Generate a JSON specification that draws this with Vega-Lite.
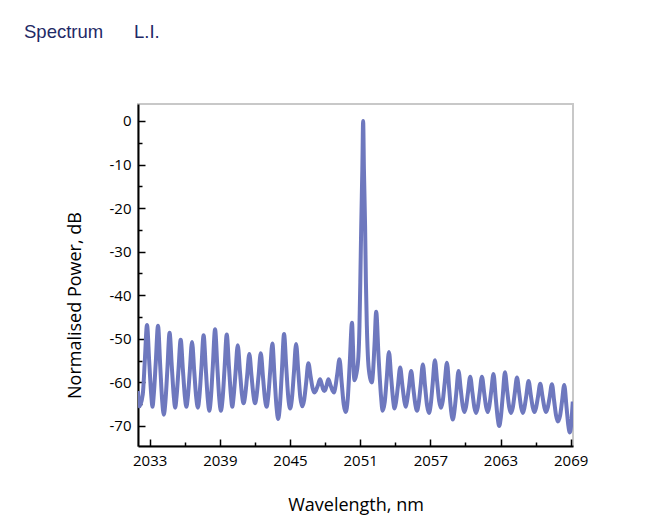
{
  "$schema": "https://vega.github.io/schema/vega-lite/v6.json",
  "width": 435,
  "height": 342,
  "autosize": {"type": "none"},
  "padding": {"left": 138, "top": 104, "right": 98, "bottom": 79},
  "background": "white",
  "title": {
    "text": "Spectrum\u00a0\u00a0\u00a0\u00a0\u00a0\u00a0L.I.",
    "anchor": "start",
    "frame": "group",
    "dx": -114,
    "offset": 63,
    "font": "Liberation Sans",
    "fontSize": 18.5,
    "fontWeight": "normal",
    "color": "#1f2a66"
  },
  "config": {
    "view": {"stroke": "#c8c8c8", "strokeWidth": 2}
  },
  "data": {
    "values": [
      {"w": 2032.00, "p": -62.0}, {"w": 2032.12, "p": -65.5}, {"w": 2032.41, "p": -62.7}, {"w": 2032.58, "p": -55.2},
      {"w": 2032.77, "p": -46.8}, {"w": 2032.96, "p": -55.3}, {"w": 2033.13, "p": -62.8}, {"w": 2033.24, "p": -65.6},
      {"w": 2033.35, "p": -62.8}, {"w": 2033.52, "p": -55.4}, {"w": 2033.71, "p": -47.0}, {"w": 2033.90, "p": -56.2},
      {"w": 2034.07, "p": -64.3}, {"w": 2034.21, "p": -67.4}, {"w": 2034.34, "p": -64.6}, {"w": 2034.51, "p": -57.1},
      {"w": 2034.70, "p": -48.6}, {"w": 2034.89, "p": -56.3}, {"w": 2035.06, "p": -63.2}, {"w": 2035.18, "p": -65.8},
      {"w": 2035.29, "p": -63.5}, {"w": 2035.46, "p": -57.2}, {"w": 2035.65, "p": -50.2}, {"w": 2035.84, "p": -57.1},
      {"w": 2036.01, "p": -63.3}, {"w": 2036.14, "p": -65.6}, {"w": 2036.26, "p": -63.4}, {"w": 2036.43, "p": -57.4},
      {"w": 2036.62, "p": -50.7}, {"w": 2036.81, "p": -57.5}, {"w": 2036.98, "p": -63.5}, {"w": 2037.12, "p": -65.8},
      {"w": 2037.25, "p": -63.3}, {"w": 2037.42, "p": -56.7}, {"w": 2037.61, "p": -49.2}, {"w": 2037.80, "p": -57.0},
      {"w": 2037.97, "p": -63.9}, {"w": 2038.10, "p": -66.5}, {"w": 2038.23, "p": -63.7}, {"w": 2038.40, "p": -56.2},
      {"w": 2038.59, "p": -47.8}, {"w": 2038.78, "p": -56.2}, {"w": 2038.95, "p": -63.7}, {"w": 2039.09, "p": -66.5},
      {"w": 2039.23, "p": -63.9}, {"w": 2039.40, "p": -56.9}, {"w": 2039.59, "p": -49.0}, {"w": 2039.78, "p": -56.5},
      {"w": 2039.95, "p": -63.1}, {"w": 2040.06, "p": -65.6}, {"w": 2040.17, "p": -63.5}, {"w": 2040.34, "p": -57.8},
      {"w": 2040.53, "p": -51.5}, {"w": 2040.72, "p": -57.5}, {"w": 2040.89, "p": -62.8}, {"w": 2041.03, "p": -64.8},
      {"w": 2041.16, "p": -63.1}, {"w": 2041.33, "p": -58.6}, {"w": 2041.52, "p": -53.5}, {"w": 2041.71, "p": -58.6},
      {"w": 2041.88, "p": -63.1}, {"w": 2042.01, "p": -64.8}, {"w": 2042.14, "p": -63.1}, {"w": 2042.31, "p": -58.5},
      {"w": 2042.50, "p": -53.3}, {"w": 2042.69, "p": -58.8}, {"w": 2042.86, "p": -63.8}, {"w": 2043.00, "p": -65.6},
      {"w": 2043.13, "p": -63.4}, {"w": 2043.30, "p": -57.6}, {"w": 2043.49, "p": -51.1}, {"w": 2043.68, "p": -58.9},
      {"w": 2043.85, "p": -65.8}, {"w": 2043.99, "p": -68.4}, {"w": 2044.13, "p": -65.5}, {"w": 2044.30, "p": -57.7},
      {"w": 2044.49, "p": -48.9}, {"w": 2044.68, "p": -56.6}, {"w": 2044.85, "p": -63.4}, {"w": 2045.01, "p": -66.0},
      {"w": 2045.16, "p": -63.8}, {"w": 2045.33, "p": -57.9}, {"w": 2045.52, "p": -51.2}, {"w": 2045.71, "p": -57.6},
      {"w": 2045.88, "p": -63.4}, {"w": 2046.05, "p": -65.5}, {"w": 2046.21, "p": -64.0}, {"w": 2046.38, "p": -60.1},
      {"w": 2046.57, "p": -55.6}, {"w": 2046.76, "p": -58.6}, {"w": 2046.93, "p": -61.3}, {"w": 2047.07, "p": -62.3},
      {"w": 2047.21, "p": -61.9}, {"w": 2047.38, "p": -60.7}, {"w": 2047.57, "p": -59.3}, {"w": 2047.72, "p": -60.5},
      {"w": 2047.83, "p": -61.6}, {"w": 2047.93, "p": -62.0}, {"w": 2048.03, "p": -61.6}, {"w": 2048.14, "p": -60.6},
      {"w": 2048.28, "p": -59.3}, {"w": 2048.47, "p": -60.7}, {"w": 2048.64, "p": -61.9}, {"w": 2048.76, "p": -62.3},
      {"w": 2048.87, "p": -61.2}, {"w": 2049.04, "p": -58.1}, {"w": 2049.23, "p": -54.7}, {"w": 2049.42, "p": -60.1},
      {"w": 2049.59, "p": -65.0}, {"w": 2049.77, "p": -66.8}, {"w": 2049.94, "p": -63.7}, {"w": 2050.11, "p": -55.5},
      {"w": 2050.30, "p": -46.3}, {"w": 2050.39, "p": -52.2}, {"w": 2050.45, "p": -57.5}, {"w": 2050.51, "p": -59.5},
      {"w": 2050.68, "p": -58.0}, {"w": 2050.85, "p": -54.0}, {"w": 2050.94, "p": -47.0}, {"w": 2051.01, "p": -37.0},
      {"w": 2051.09, "p": -24.0}, {"w": 2051.185, "p": -11.0}, {"w": 2051.254, "p": 0.0}, {"w": 2051.32, "p": -11.0},
      {"w": 2051.42, "p": -24.0}, {"w": 2051.49, "p": -37.0}, {"w": 2051.57, "p": -47.0}, {"w": 2051.68, "p": -55.0},
      {"w": 2051.85, "p": -59.0}, {"w": 2052.00, "p": -60.0}, {"w": 2052.10, "p": -57.6}, {"w": 2052.23, "p": -51.1},
      {"w": 2052.37, "p": -43.8}, {"w": 2052.57, "p": -54.0}, {"w": 2052.78, "p": -63.1}, {"w": 2052.92, "p": -66.5},
      {"w": 2053.10, "p": -64.5}, {"w": 2053.27, "p": -59.1}, {"w": 2053.46, "p": -53.0}, {"w": 2053.65, "p": -58.9},
      {"w": 2053.82, "p": -64.1}, {"w": 2053.94, "p": -66.0}, {"w": 2054.06, "p": -64.6}, {"w": 2054.23, "p": -60.8},
      {"w": 2054.42, "p": -56.6}, {"w": 2054.61, "p": -60.7}, {"w": 2054.78, "p": -64.3}, {"w": 2054.89, "p": -65.6},
      {"w": 2055.00, "p": -64.4}, {"w": 2055.17, "p": -61.1}, {"w": 2055.36, "p": -57.4}, {"w": 2055.55, "p": -61.5},
      {"w": 2055.72, "p": -65.1}, {"w": 2055.86, "p": -66.5}, {"w": 2056.00, "p": -64.9}, {"w": 2056.17, "p": -60.7},
      {"w": 2056.36, "p": -55.9}, {"w": 2056.55, "p": -60.9}, {"w": 2056.72, "p": -65.3}, {"w": 2056.88, "p": -67.0},
      {"w": 2057.03, "p": -65.2}, {"w": 2057.20, "p": -60.3}, {"w": 2057.39, "p": -54.9}, {"w": 2057.58, "p": -59.8},
      {"w": 2057.75, "p": -64.2}, {"w": 2057.91, "p": -65.8}, {"w": 2058.06, "p": -64.3}, {"w": 2058.23, "p": -60.1},
      {"w": 2058.42, "p": -55.5}, {"w": 2058.61, "p": -61.4}, {"w": 2058.78, "p": -66.6}, {"w": 2058.92, "p": -68.5},
      {"w": 2059.05, "p": -66.8}, {"w": 2059.22, "p": -62.4}, {"w": 2059.41, "p": -57.4}, {"w": 2059.60, "p": -61.6},
      {"w": 2059.77, "p": -65.4}, {"w": 2059.91, "p": -66.8}, {"w": 2060.05, "p": -65.6}, {"w": 2060.22, "p": -62.3},
      {"w": 2060.41, "p": -58.7}, {"w": 2060.60, "p": -62.4}, {"w": 2060.77, "p": -65.8}, {"w": 2060.91, "p": -67.0},
      {"w": 2061.05, "p": -65.8}, {"w": 2061.22, "p": -62.4}, {"w": 2061.41, "p": -58.7}, {"w": 2061.60, "p": -62.3},
      {"w": 2061.77, "p": -65.6}, {"w": 2061.91, "p": -66.8}, {"w": 2062.04, "p": -65.5}, {"w": 2062.21, "p": -62.0},
      {"w": 2062.40, "p": -58.1}, {"w": 2062.59, "p": -63.5}, {"w": 2062.76, "p": -68.2}, {"w": 2062.89, "p": -70.0},
      {"w": 2063.02, "p": -68.2}, {"w": 2063.19, "p": -63.2}, {"w": 2063.38, "p": -57.7}, {"w": 2063.57, "p": -61.9},
      {"w": 2063.74, "p": -65.6}, {"w": 2063.90, "p": -67.0}, {"w": 2064.05, "p": -65.8}, {"w": 2064.22, "p": -62.5},
      {"w": 2064.41, "p": -58.9}, {"w": 2064.60, "p": -62.5}, {"w": 2064.77, "p": -65.8}, {"w": 2064.91, "p": -67.0},
      {"w": 2065.04, "p": -65.9}, {"w": 2065.21, "p": -63.0}, {"w": 2065.40, "p": -59.7}, {"w": 2065.59, "p": -62.9},
      {"w": 2065.76, "p": -65.7}, {"w": 2065.90, "p": -66.8}, {"w": 2066.04, "p": -65.8}, {"w": 2066.21, "p": -63.2},
      {"w": 2066.40, "p": -60.3}, {"w": 2066.59, "p": -63.2}, {"w": 2066.76, "p": -65.8}, {"w": 2066.90, "p": -66.8},
      {"w": 2067.04, "p": -65.8}, {"w": 2067.21, "p": -63.3}, {"w": 2067.40, "p": -60.4}, {"w": 2067.59, "p": -64.3},
      {"w": 2067.76, "p": -67.7}, {"w": 2067.90, "p": -69.0}, {"w": 2068.09, "p": -67.7}, {"w": 2068.26, "p": -64.4},
      {"w": 2068.45, "p": -60.6}, {"w": 2068.64, "p": -65.5}, {"w": 2068.80, "p": -69.9}, {"w": 2068.93, "p": -71.5},
      {"w": 2069.18, "p": -64.4}
    ]
  },
  "mark": {
    "type": "line",
    "color": "#6e78be",
    "strokeWidth": 4,
    "interpolate": "monotone",
    "strokeJoin": "round",
    "clip": true
  },
  "encoding": {
    "x": {
      "field": "w",
      "type": "quantitative",
      "scale": {"domain": [2032, 2069.2], "nice": false, "zero": false},
      "axis": {
        "title": "Wavelength, nm",
        "values": [2033, 2036, 2039, 2042, 2045, 2048, 2051, 2054, 2057, 2060, 2063, 2066, 2069],
        "labelExpr": "(datum.value - 2033) % 6 == 0 ? '' + datum.value : ''",
        "grid": false,
        "domainColor": "black",
        "domainWidth": 2,
        "tickColor": "black",
        "tickWidth": 1.5,
        "tickSize": {"condition": {"test": "(datum.value - 2033) % 6 == 0", "value": -7}, "value": -4},
        "labelPadding": 14,
        "labelFlush": false,
        "labelOverlap": false,
        "labelFont": "Open Sans",
        "labelFontSize": 15,
        "labelColor": "black",
        "titleFont": "Open Sans",
        "titleFontSize": 18,
        "titleFontWeight": "normal",
        "titleColor": "black",
        "titleX": 217.5,
        "titleY": 59,
        "titleBaseline": "middle"
      }
    },
    "y": {
      "field": "p",
      "type": "quantitative",
      "scale": {"domain": [-74.6, 3.9], "nice": false, "zero": false},
      "axis": {
        "title": "Normalised Power, dB",
        "values": [-70, -65, -60, -55, -50, -45, -40, -35, -30, -25, -20, -15, -10, -5, 0],
        "labelExpr": "datum.value % 10 == 0 ? '' + datum.value : ''",
        "grid": false,
        "domainColor": "black",
        "domainWidth": 2,
        "tickColor": "black",
        "tickWidth": 1.5,
        "tickSize": {"condition": {"test": "datum.value % 10 == 0", "value": -7}, "value": -4},
        "labelPadding": 14,
        "labelFlush": false,
        "labelOverlap": false,
        "labelFont": "Open Sans",
        "labelFontSize": 15,
        "labelColor": "black",
        "titleFont": "Open Sans",
        "titleFontSize": 18,
        "titleFontWeight": "normal",
        "titleColor": "black",
        "titleX": -63,
        "titleY": 201,
        "titleAngle": -90,
        "titleAlign": "center",
        "titleBaseline": "middle"
      }
    }
  }
}
